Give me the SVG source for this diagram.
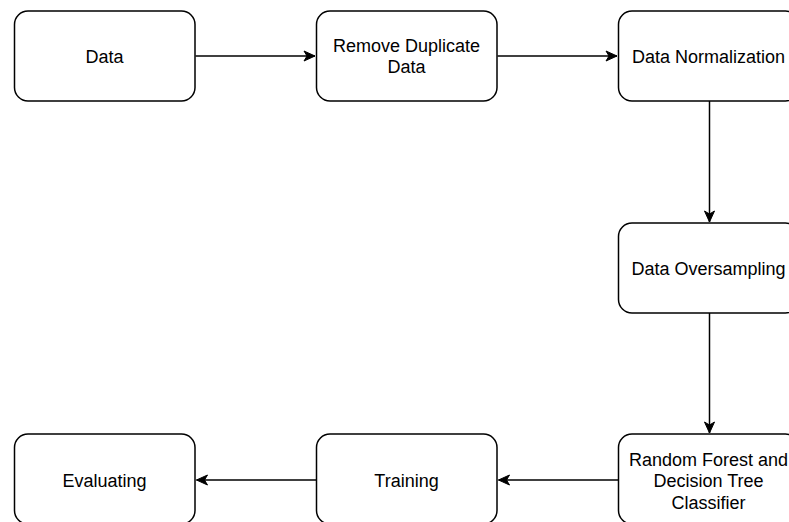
<svg xmlns="http://www.w3.org/2000/svg" width="789" height="522" viewBox="0 0 789 522">
<style>
.box{fill:#ffffff;stroke:#000000;stroke-width:1.5}
.lbl{font-family:"Liberation Sans",Arial,Helvetica,sans-serif;font-size:18px;fill:#000000;text-anchor:middle}
.edge{fill:none;stroke:#000000;stroke-width:1.5}
</style>
<defs>
<marker id="arr" markerUnits="userSpaceOnUse" markerWidth="14" markerHeight="12" viewBox="0 0 14 12" refX="12" refY="6" orient="auto">
<path d="M1,1 L12,6 L1,11 L4,6 Z" fill="#000000" stroke="#000000" stroke-width="1"/>
</marker>
</defs>
<rect width="789" height="522" fill="#ffffff"/>
<g id="connectors">
<path class="edge" d="M195.5,56 L315,56" marker-end="url(#arr)"/>
<path class="edge" d="M497.5,56 L617,56" marker-end="url(#arr)"/>
<path class="edge" d="M709.5,101 L709.5,222" marker-end="url(#arr)"/>
<path class="edge" d="M709.5,313 L709.5,433" marker-end="url(#arr)"/>
<path class="edge" d="M618.5,480 L498.5,480" marker-end="url(#arr)"/>
<path class="edge" d="M316.5,480 L196.5,480" marker-end="url(#arr)"/>
</g>
<g id="node-data">
<rect class="box" x="14.5" y="11" width="180.5" height="90" rx="13.5" ry="13.5"/>
<text class="lbl" x="104.5" y="62.5">Data</text>
</g>
<g id="node-remove">
<rect class="box" x="316.5" y="11" width="180.5" height="90" rx="13.5" ry="13.5"/>
<text class="lbl" x="406.5" y="51.7">Remove Duplicate</text>
<text class="lbl" x="406.5" y="73.3">Data</text>
</g>
<g id="node-normalization">
<rect class="box" x="618.5" y="11" width="180.5" height="90" rx="13.5" ry="13.5"/>
<text class="lbl" x="708.5" y="62.5">Data Normalization</text>
</g>
<g id="node-oversampling">
<rect class="box" x="618.5" y="223" width="180.5" height="90" rx="13.5" ry="13.5"/>
<text class="lbl" x="708.5" y="274.5">Data Oversampling</text>
</g>
<g id="node-classifier">
<rect class="box" x="618.5" y="434" width="180.5" height="90" rx="13.5" ry="13.5"/>
<text class="lbl" x="708.5" y="465.5">Random Forest and</text>
<text class="lbl" x="708.5" y="487">Decision Tree</text>
<text class="lbl" x="708.5" y="508.5">Classifier</text>
</g>
<g id="node-training">
<rect class="box" x="316.5" y="434" width="180.5" height="90" rx="13.5" ry="13.5"/>
<text class="lbl" x="406.5" y="486.5">Training</text>
</g>
<g id="node-evaluating">
<rect class="box" x="14.5" y="434" width="180.5" height="90" rx="13.5" ry="13.5"/>
<text class="lbl" x="104.5" y="486.5">Evaluating</text>
</g>
</svg>
